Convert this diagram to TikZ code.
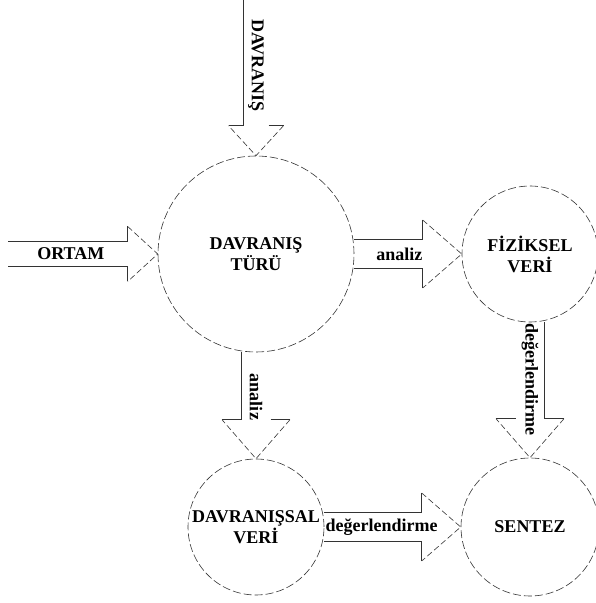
\documentclass[tikz,border=0pt]{standalone}
\usepackage{fontspec}
\setmainfont{Liberation Serif}
\usetikzlibrary{calc}
\newcommand{\okboyut}[3]{\def\okgov{#1}\def\okuc{#2}\def\okbas{#3}}
% #1 from, #2 to, #3 text, #4 text angle, #5 left side, #6 right side, #7 name
\newcommand{\blokok}[7]{%
	\coordinate (#7-b) at ($(#2)!\okbas!(#1)$);
	\draw[okcizgi, #5] ($(#1)!\okgov!90:(#2)$) -- ($(#7-b)!\okgov!90:(#2)$);
	\draw[okcizgi, #6] ($(#1)!\okgov!-90:(#2)$) -- ($(#7-b)!\okgov!-90:(#2)$);
	\draw[okcizgi] ($(#7-b)!\okgov!90:(#2)$) -- ($(#7-b)!\okuc!90:(#2)$);
	\draw[okcizgi] ($(#7-b)!\okgov!-90:(#2)$) -- ($(#7-b)!\okuc!-90:(#2)$);
	\draw[okcizgi, okkesik] ($(#7-b)!\okuc!90:(#2)$) -- (#2) -- ($(#7-b)!\okuc!-90:(#2)$);
	\node[etiket, rotate=#4] (#7) at ($(#1)!0.42!(#2)$) {#3};
}
\tikzset{
	okcizgi/.style={draw=black!80, line width=0.6pt},
	okkesik/.style={dash pattern=on 6pt off 3pt},
	etiket/.style={font=\fontsize{18}{21}\selectfont\bfseries, inner sep=1pt},
	daire/.style={circle, draw=black!80, line width=0.6pt, dash pattern=on 8pt off 3pt,
		minimum size=#1, inner sep=0pt, align=center, font=\fontsize{18}{21}\selectfont\bfseries}
}

\begin{document}
\begin{tikzpicture}[x=1pt, y=1pt]
			\useasboundingbox (0,0) rectangle (595,603);
			%   %   %   %   %   %   %   %   %   %   %
			%   Circles
				\node[daire=196pt] (tur) at (256,349) {DAVRANIŞ\\TÜRÜ};
				\node[daire=136pt] (fiz) at (530,349) {FİZİKSEL\\VERİ};
				\node[daire=136pt] (dsv) at (256,76) {DAVRANIŞSAL\\VERİ};
				\node[daire=138pt] (sen) at (530,76) {SENTEZ};
			%   %   %   %   %   %   %   %   %   %   %
			%   Free ends
				\coordinate (davranis-uc) at (256,603);
				\coordinate (ortam-uc) at (8,349);
			%   %   %   %   %   %   %   %   %   %   %
			%   DAVRANIŞ -> Davranış türü, Ortam -> Davranış türü
				\okboyut{12.5pt}{27.5pt}{30pt}
				\blokok{davranis-uc}{tur.north}{DAVRANIŞ}{-90}{draw=none}{}{davranis}
				\blokok{ortam-uc}{tur.west}{ORTAM}{0}{}{}{ortam}
			%   %   %   %   %   %   %   %   %   %   %
			%   Analiz arrows
				\okboyut{14.5pt}{34pt}{39pt}
				\blokok{tur.east}{fiz.west}{analiz}{0}{}{}{analiz-sag}
				\blokok{tur.south}{dsv.north}{analiz}{-90}{draw=none}{}{analiz-alt}
			%   %   %   %   %   %   %   %   %   %   %
			%   Değerlendirme arrows
				\blokok{fiz.south}{sen.north}{değerlendirme}{-90}{}{draw=none}{deger-alt}
				\blokok{dsv.east}{sen.west}{değerlendirme}{0}{}{}{deger-sag}
\end{tikzpicture}
\end{document}
